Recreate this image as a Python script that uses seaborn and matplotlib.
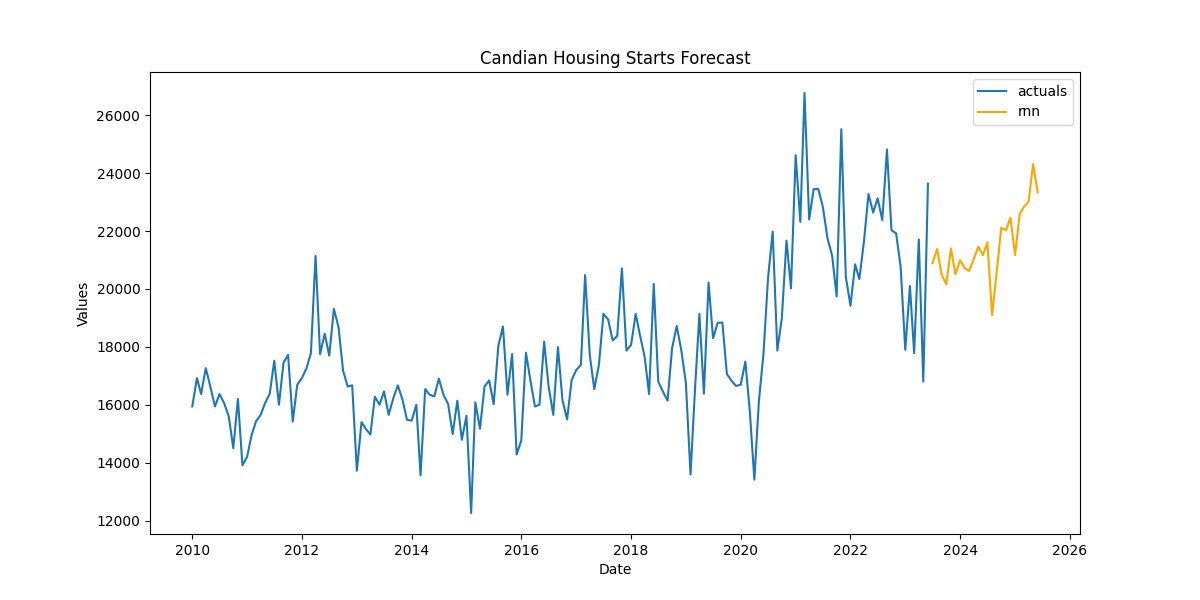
import pandas as pd
import matplotlib
matplotlib.use("Agg")
import matplotlib.pyplot as plt
import seaborn as sns

# monthly housing starts, Jan 2010 - Jun 2023
actual_start = "2010-01-01"
actual_values = [
    15940, 16920, 16370, 17265, 16630, 15940, 16370, 16060, 15600, 14500, 16200, 13910,
    14200, 14970, 15420, 15650, 16060, 16380, 17520, 16000, 17460, 17720, 15420, 16690,
    16920, 17265, 17780, 21140, 17750, 18450, 17700, 19310, 18680, 17180, 16630, 16670,
    13720, 15400, 15170, 14970, 16280, 16000, 16460, 15650, 16230, 16670, 16170, 15480,
    15450, 16000, 13560, 16540, 16345, 16290, 16900, 16345, 16020, 14990, 16140, 14790,
    15620, 12260, 16080, 15170, 16630, 16840, 16020, 18030, 18700, 16345, 17750, 14280,
    14770, 17800, 16860, 15940, 16000, 18180, 16630, 15650, 17990, 16170, 15490, 16850,
    17200, 17380, 20480, 17720, 16540, 17380, 19140, 18950, 18220, 18380, 20710, 17870,
    18070, 19140, 18410, 17670, 16370, 20170, 16800, 16460, 16140, 17950, 18720, 17900,
    16750, 13590, 16370, 19140, 16380, 20220, 18300, 18830, 18840, 17060, 16830, 16650,
    16690, 17490, 15830, 13410, 16110, 17780, 20370, 21980, 17870, 18990, 21670, 20020,
    24620, 22320, 26770, 22400, 23450, 23450, 22840, 21750, 21150, 19740, 25520, 20420,
    19420, 20850, 20340, 21650, 23280, 22640, 23130, 22380, 24820, 22030, 21920, 20770,
    17900, 20100, 17780, 21710, 16800, 23640,
]

# rnn forecast, Jul 2023 - Jun 2025
forecast_start = "2023-07-01"
rnn_values = [
    20890, 21380, 20480, 20160, 21400, 20510, 21000, 20710, 20620, 21030, 21460, 21170,
    21610, 19100, 20600, 22110, 22030, 22460, 21170, 22590, 22840, 23010, 24310, 23330,
]

actuals = pd.DataFrame({
    "Date": pd.date_range(actual_start, periods=len(actual_values), freq="MS"),
    "Values": actual_values,
})
rnn = pd.DataFrame({
    "Date": pd.date_range(forecast_start, periods=len(rnn_values), freq="MS"),
    "Values": rnn_values,
})

fig, ax = plt.subplots(figsize=(12, 6), dpi=100)
sns.lineplot(data=actuals, x="Date", y="Values", ax=ax, label="actuals", color="#1f77b4")
sns.lineplot(data=rnn, x="Date", y="Values", ax=ax, label="rnn", color="orange")

ax.set_title("Candian Housing Starts Forecast")
ax.set_xlabel("Date")
ax.set_ylabel("Values")
ax.legend(loc="upper right")

fig.savefig("out.png", dpi=100)
